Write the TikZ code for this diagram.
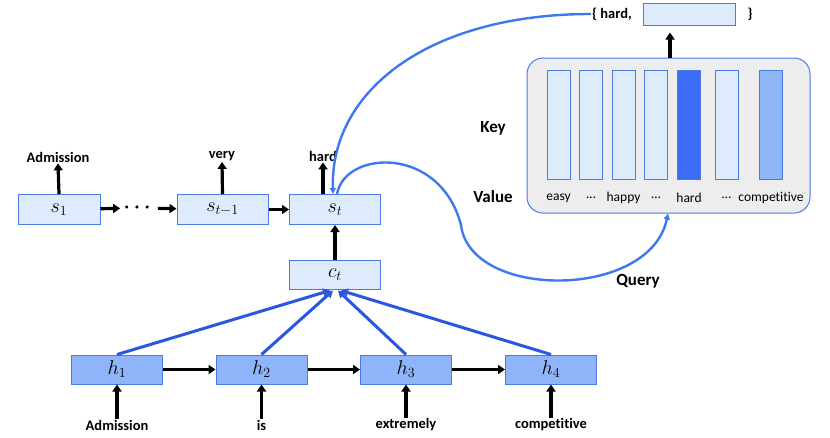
\RequirePackage{fix-cm}
\documentclass[tikz,border=0pt]{standalone}
\usepackage{amsmath}
\usepackage{fontspec}
\setmainfont{Carlito}[Ligatures=NoCommon]
\usepackage{xcolor}
\usetikzlibrary{arrows.meta,positioning,calc}
\definecolor{boxfill}{HTML}{DDEBFC}
\definecolor{boxline}{HTML}{4A7BE5}
\definecolor{hfill}{HTML}{8FB4F9}
\definecolor{barhot}{HTML}{3B6CF6}
\definecolor{barmid}{HTML}{8FB7F8}
\definecolor{curveblue}{HTML}{3D78F0}
\definecolor{attblue}{HTML}{2A57E0}
\definecolor{memgray}{HTML}{EDEDED}

\tikzset{
  cell/.style={draw=boxline, fill=boxfill, line width=1pt, minimum width=91pt, minimum height=30pt,
    inner sep=0pt, font=\fontsize{20}{22}\selectfont},
  hcell/.style={cell, fill=hfill},
  bar/.style={draw=boxline, fill=boxfill, line width=1pt, minimum width=23pt, minimum height=109pt, inner sep=0pt},
  word/.style={font=\fontsize{14.5}{17}\selectfont\bfseries, inner sep=1pt},
  big/.style={font=\fontsize{17}{20}\selectfont\bfseries, inner sep=1pt},
  val/.style={font=\fontsize{13.5}{16}\selectfont, inner sep=1pt},
  arr/.style={-{Triangle[width=9pt,length=7pt]}, line width=3.2pt},
  att/.style={-{Triangle[width=8pt,length=7pt]}, line width=3pt, attblue},
  query/.style={-{Triangle[width=6pt,length=6pt]}, line width=2.4pt, curveblue}
}

\begin{document}
\begin{tikzpicture}[x=1pt, y=-1pt]
  \useasboundingbox (0,0) rectangle (830,437);

  % decoder states
  \node[cell, minimum width=82pt] (s1) at (59,209.5) {$s_1$};
  \node[font=\fontsize{20}{22}\selectfont] (dots) at (139,208) {$\boldsymbol{\cdots}$};
  \node[cell] (sp) at (222.5,209.5) {$s_{t-1}$};
  \node[cell] (st) at (335,209.5) {$s_t$};
  \node[cell, minimum height=29pt] (ct) at (335,274.5) {$c_t$};

  \node[word] (o1) at (58,157) {Admission};
  \node[word] (o2) at (222,156) {very};
  \node[word] (o3) at (323,156) {hard};

  \draw[arr] (s1) -- (dots);
  \draw[arr] (dots) -- (sp);
  \draw[arr] (sp) -- (st);
  \draw[arr] (s1.north) -- (o1.south);
  \draw[arr] (sp.north) -- (o2.south);
  \draw[arr] (st.north -| o3) -- (o3.south);
  \draw[arr] (ct) -- (st);

  % encoder states
  \foreach \i/\x/\w in {1/117/Admission, 2/261.5/is, 3/406/extremely, 4/551/competitive} {
    \node[hcell, minimum height=29pt] (h\i) at (\x,369.5) {$h_\i$};
    \node[word] (in\i) at (\x,425) {\w};
    \draw[arr] (in\i.north) -- (h\i.south);
  }
  \foreach \a/\b in {1/2, 2/3, 3/4} \draw[arr] (h\a) -- (h\b);

  % attention
  \draw[att] (h1.north) -- ($(ct.south)+(-5,1)$);
  \draw[att] (h2.north) -- ($(ct.south)+(-2,1)$);
  \draw[att] (h3.north) -- ($(ct.south)+(3,1)$);
  \draw[att] (h4.north) -- ($(ct.south)+(6,1)$);

  % key-value memory
  \node[draw=boxline, fill=memgray, line width=1pt, rounded corners=16pt,
    minimum width=283pt, minimum height=155pt] (mem) at (668.5,135.5) {};
  \foreach \i/\x/\c/\w in {1/558.5/boxfill/easy, 2/591/boxfill/\dots, 3/623.5/boxfill/happy,
      4/656/boxfill/\dots, 5/689/barhot/hard, 6/726.5/boxfill/\dots, 7/771/barmid/competitive} {
    \node[bar, fill=\c] (b\i) at (\x,125) {};
    \node[val] (v\i) at (\x,198) {\w};
  }
  \node[big] (key) at (493,128) {Key};
  \node[big] (value) at (493,197) {Value};
  \node[big] (qry) at (638,281) {Query};

  % retrieved pair
  \node[cell, minimum width=92pt, minimum height=22pt] (res) at (689,14) {};
  \node[word] (pair) at (612,14) {\{ hard,};
  \node[word] (close) at (750,14) {\}};
  \draw[arr] (mem.north -| 670,0) -- ($(res.south -| 670,0)+(0,7)$);

  \coordinate (qin) at ($(st.north)+(2,0)$);
  \coordinate (vout) at ($(st.north)+(-2,0)$);
  \draw[query] (pair.west) .. controls (430,14) and (330,90) .. (vout);
  \draw[query] (qin) .. controls (345,150) and (440,145) .. (461,225)
    .. controls (470,300) and (650,300) .. (mem.south -| 668,0);
\end{tikzpicture}
\end{document}
